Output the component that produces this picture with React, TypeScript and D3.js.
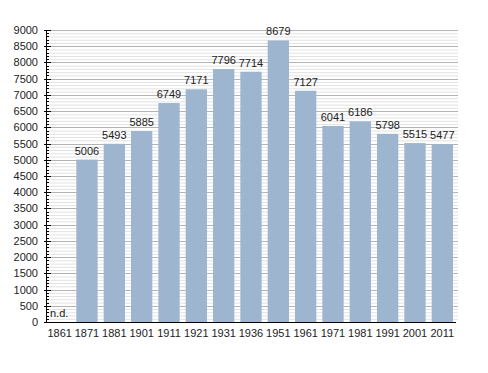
import { useEffect, useRef } from 'react'
import * as d3 from 'd3'

const years = ['1861', '1871', '1881', '1901', '1911', '1921', '1931', '1936', '1951', '1961', '1971', '1981', '1991', '2001', '2011']
const population: (number | null)[] = [null, 5006, 5493, 5885, 6749, 7171, 7796, 7714, 8679, 7127, 6041, 6186, 5798, 5515, 5477]
const majorTicks = d3.range(0, 9001, 500)
const minorTicks = d3.range(0, 9001, 100).filter((v) => v % 500 !== 0)

const W = 488
const H = 373
const MARGIN = { top: 30, right: 32, bottom: 51, left: 46 }
const BAR_COLOR = '#9db5cf'
const MAJOR_GRID = '#b4b4b4'
const MINOR_GRID = '#e2e2e2'
const FONT = "'Liberation Sans', Arial, sans-serif"

export default function App() {
  const svgRef = useRef<SVGSVGElement>(null)

  useEffect(() => {
    const svg = svgRef.current
    if (!svg) return
    const sel = d3.select(svg)
    sel.selectAll('*').remove()

    const x0 = MARGIN.left
    const x1 = W - MARGIN.right
    const y0 = H - MARGIN.bottom
    const x = d3.scaleBand().domain(years).range([x0, x1]).paddingInner(0.22).paddingOuter(0.11)
    const y = d3.scaleLinear().domain([0, 9000]).range([y0, MARGIN.top])

    sel.append('rect').attr('width', W).attr('height', H).attr('fill', '#fff')

    // grid
    sel.append('g').selectAll('line').data(minorTicks).join('line')
      .attr('x1', x0).attr('x2', x1 + 2)
      .attr('y1', (d) => y(d) + 0.5).attr('y2', (d) => y(d) + 0.5)
      .attr('stroke', MINOR_GRID).attr('stroke-width', 1)
    sel.append('g').selectAll('line').data(majorTicks.filter((d) => d > 0)).join('line')
      .attr('x1', x0).attr('x2', x1 + 2)
      .attr('y1', (d) => Math.round(y(d)) + 0.5).attr('y2', (d) => Math.round(y(d)) + 0.5)
      .attr('stroke', MAJOR_GRID).attr('stroke-width', 1)

    // bars
    const bars = years.map((yr, i) => ({ yr, v: population[i] }))
    sel.append('g').selectAll('rect').data(bars.filter((d) => d.v !== null)).join('rect')
      .attr('x', (d) => x(d.yr)!)
      .attr('width', x.bandwidth())
      .attr('y', (d) => y(d.v!))
      .attr('height', (d) => y0 - y(d.v!))
      .attr('fill', BAR_COLOR)

    sel.append('g').selectAll('text').data(bars.filter((d) => d.v !== null)).join('text')
      .attr('x', (d) => x(d.yr)! + x.bandwidth() / 2)
      .attr('y', (d) => y(d.v!) - 5)
      .attr('text-anchor', 'middle')
      .attr('font-family', FONT).attr('font-size', 11).attr('fill', '#222')
      .text((d) => String(d.v))

    sel.append('text')
      .attr('x', x0 + 4).attr('y', y0 - 5)
      .attr('font-family', FONT).attr('font-size', 11).attr('fill', '#222')
      .text('n.d.')

    // y axis
    const yAxis = sel.append('g')
    yAxis.append('line').attr('x1', x0 + 0.5).attr('x2', x0 + 0.5).attr('y1', MARGIN.top).attr('y2', y0).attr('stroke', '#000')
    yAxis.selectAll('line.minor').data(minorTicks).join('line').attr('class', 'minor')
      .attr('x1', x0).attr('x2', x0 + 3)
      .attr('y1', (d) => Math.round(y(d)) + 0.5).attr('y2', (d) => Math.round(y(d)) + 0.5)
      .attr('stroke', '#000')
    yAxis.selectAll('line.major').data(majorTicks).join('line').attr('class', 'major')
      .attr('x1', x0 - 2).attr('x2', x0 + 5)
      .attr('y1', (d) => Math.round(y(d)) + 0.5).attr('y2', (d) => Math.round(y(d)) + 0.5)
      .attr('stroke', '#000')
    yAxis.selectAll('text').data(majorTicks).join('text')
      .attr('x', x0 - 8).attr('y', (d) => y(d) + 4)
      .attr('text-anchor', 'end')
      .attr('font-family', FONT).attr('font-size', 11).attr('fill', '#222')
      .text((d) => String(d))

    // x axis
    sel.append('line').attr('x1', x0).attr('x2', x1).attr('y1', y0 + 0.5).attr('y2', y0 + 0.5).attr('stroke', '#000')
    sel.append('g').selectAll('text').data(years).join('text')
      .attr('x', (d) => x(d)! + x.bandwidth() / 2)
      .attr('y', y0 + 15)
      .attr('text-anchor', 'middle')
      .attr('font-family', FONT).attr('font-size', 11).attr('fill', '#222')
      .text((d) => d)
  }, [])

  return (
    <svg ref={svgRef} width={W} height={H} style={{ position: 'absolute', left: 0, top: 0, display: 'block' }} />
  )
}
